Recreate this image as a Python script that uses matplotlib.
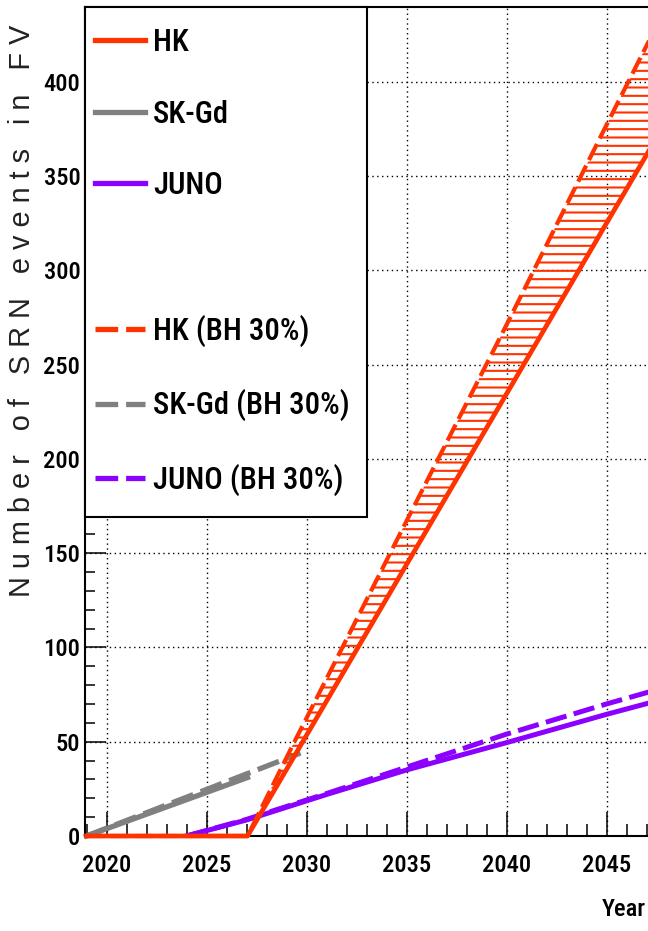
import os
import re
import matplotlib
matplotlib.use('Agg')
import matplotlib.pyplot as plt
from matplotlib import font_manager
from matplotlib.font_manager import FontProperties
from matplotlib.lines import Line2D
from matplotlib.legend_handler import HandlerLine2D
from matplotlib.ticker import MultipleLocator, FormatStrFormatter
import numpy as np

# Values (year, number of SRN events in FV)
hk_years = [2019.0, 2027.05, 2029.35, 2030.0, 2035.0, 2040.0, 2045.0, 2048.0]
hk_events = [0.0, 0.0, 41.6, 53.4, 143.9, 234.4, 324.9, 379.2]
hk_bh_events = [0.0, 0.0, 49.0, 62.5, 167.0, 271.0, 377.0, 440.0]

skgd_years = [2019.0, 2027.05]
skgd_events = [0.0, 31.0]
skgd_bh_years = [2019.0, 2029.7]
skgd_bh_events = [0.0, 44.0]

juno_years = [2024.0, 2027.0, 2031.0, 2035.0, 2040.0, 2045.0, 2048.0]
juno_events = [0.0, 8.5, 22.0, 35.0, 49.5, 64.5, 73.0]
juno_bh_events = [0.0, 8.8, 22.5, 36.5, 54.0, 70.0, 79.0]

legend_labels = ['HK', 'SK-Gd', 'JUNO', '', 'HK (BH 30%)', 'SK-Gd (BH 30%)', 'JUNO (BH 30%)']

c_hk = '#ff3300'
c_sk = '#808080'
c_juno = '#8b00ff'
dash = (4.3, 1.5)

W, H = 648, 931
fig = plt.figure(figsize=(W / 100, H / 100), dpi=100)
renderer = fig.canvas.get_renderer()


def text_px(s, family, size, weight=400, stretch='normal'):
	prop = FontProperties(family=family, size=size, weight=weight, stretch=stretch)
	return renderer.get_text_width_height_descent(s, prop, ismath=False)


# ROOT output here is squeezed sideways and fairly heavy: pick the installed
# narrow sans whose digits have the closest width/height ratio (ref "400": 35x31 px)
file_re = re.compile(r'^(notosans|roboto|opensans|liberationsans|dejavusans)(extra|ultra)?(condensed|narrow)'
					 r'(thin|extralight|light|regular|medium|semibold|bold|extrabold|black)?$')
weight_penalty = {600: 0.0, 700: 0.05, 500: 0.05, 400: 0.2, 800: 0.2, 300: 0.4, 900: 0.4, 200: 0.8, 100: 1.0}


def pick_narrow_font():
	best = None
	for f in font_manager.fontManager.ttflist:
		base = os.path.splitext(os.path.basename(f.fname))[0].lower().replace('-', '').replace('_', '')
		if f.style != 'normal' or not file_re.match(base):
			continue
		w = f.weight if isinstance(f.weight, int) else font_manager.weight_dict.get(f.weight, 400)
		try:
			found = font_manager.findfont(FontProperties(family=[f.name], weight=w, stretch=f.stretch),
										  fallback_to_default=False)
		except ValueError:
			continue
		if found != f.fname:
			continue
		dw, dh, dd = text_px('400', [f.name], 20, w, f.stretch)
		score = abs(np.log((dw / (dh - dd)) / 1.13)) + weight_penalty.get(w, 1.0)
		if best is None or score < best[0]:
			best = (score, f.name, w, f.stretch)
	if best is None:
		return 'Liberation Sans', 400, 'normal'
	return best[1], best[2], best[3]


main_font, main_weight, main_stretch = pick_narrow_font()
plt.rcParams['font.family'] = [main_font, 'DejaVu Sans']
plt.rcParams['font.weight'] = main_weight
plt.rcParams['font.stretch'] = main_stretch
plt.rcParams['hatch.color'] = c_hk
plt.rcParams['hatch.linewidth'] = 1.5

# font sizes fitted to the reference: width first, height as upper limit
w10, h10, d10 = text_px('400', [main_font], 10, main_weight, main_stretch)
tick_size = min(10 * 37.0 / w10, 10 * 31.0 / (h10 - d10))
w10, _, _ = text_px('SK-Gd (BH 30%)', [main_font], 10, main_weight, main_stretch)
_, hh, hd = text_px('H', [main_font], 10, main_weight, main_stretch)
leg_size = min(10 * 196.0 / w10, 10 * 38.0 / (hh - hd))

ylab = 'N u m b e r   o f   S R N   e v e n t s   i n   F V'
w10, _, _ = text_px(ylab, ['Liberation Sans'], 10)
ylab_size = min(10 * 575.0 / w10, 21)

# axes in pixel terms: left spine x=84.5, x-axis y=836, 20 px per year, 1.886 px per event
x0_px, y0_px = 84.5, 836.0
xmin, xmax = 2018.9, 2018.9 + (W - x0_px) / 20.0
ymin, ymax = 0.0, 439.5
ax_w_px = (xmax - xmin) * 20.0
ax_h_px = (ymax - ymin) * 1.886
ax = fig.add_axes([x0_px / W, (H - y0_px) / H, ax_w_px / W, ax_h_px / H])
ax.set_xlim(xmin, xmax)
ax.set_ylim(ymin, ymax)

ax.plot(skgd_years, skgd_events, color=c_sk, lw=3.8, zorder=2, clip_on=False)
ax.plot(skgd_bh_years, skgd_bh_events, color=c_sk, lw=3.8, dashes=dash, zorder=2, clip_on=False)
ax.plot(juno_years, juno_events, color=c_juno, lw=3.6, zorder=2.2)
ax.plot(juno_years, juno_bh_events, color=c_juno, lw=3.6, dashes=dash, zorder=2.2)
ax.fill_between(hk_years, hk_events, hk_bh_events, facecolor='none', edgecolor=c_hk,
				hatch='--', linewidth=0, zorder=2.4)
ax.plot(hk_years, hk_events, color=c_hk, lw=3.4, zorder=3, clip_on=False)
ax.plot(hk_years, hk_bh_events, color=c_hk, lw=3.0, dashes=dash, zorder=3, clip_on=False)

# ROOT-like axes: inward ticks, dotted grid
ax.xaxis.set_major_locator(MultipleLocator(5))
ax.xaxis.set_minor_locator(MultipleLocator(1))
ax.yaxis.set_major_locator(MultipleLocator(50))
ax.yaxis.set_minor_locator(MultipleLocator(10))
ax.xaxis.set_major_formatter(FormatStrFormatter('%d'))
ax.yaxis.set_major_formatter(FormatStrFormatter('%d'))
ax.tick_params(which='both', direction='in', top=False, right=False, width=1.1, colors='black',
			   labelsize=tick_size)
ax.tick_params(axis='x', which='major', length=17, pad=13)
ax.tick_params(axis='x', which='minor', length=8.6)
ax.tick_params(axis='y', which='major', length=15, pad=3)
ax.tick_params(axis='y', which='minor', length=7.2)
ax.grid(True, which='major', color='black', linestyle=(0, (1, 2.5)), linewidth=1.0)
ax.set_axisbelow(True)
for side in ['left', 'bottom', 'top']:
	ax.spines[side].set_linewidth(1.5)
ax.spines['right'].set_visible(False)

# y label with ROOT-ish letter spacing
ax.set_ylabel(ylab, family='Liberation Sans', weight='normal', stretch='normal', fontsize=ylab_size,
			  color='#222222', ha='left', va='center', rotation=90, rotation_mode='anchor')
ax.yaxis.set_label_coords((22 - x0_px) / ax_w_px, (y0_px - 597) / ax_h_px)

fig.text((W - 2) / W, (H - 898) / H, 'Year', fontsize=tick_size, ha='right', va='top')

# legend box: frame from left spine to x=367, top y=7, bottom y=517, rows 73 px apart
handles = [
	Line2D([], [], color=c_hk, lw=3.8),
	Line2D([], [], color=c_sk, lw=3.8),
	Line2D([], [], color=c_juno, lw=3.8),
	Line2D([], [], color='none'),
	Line2D([], [], color=c_hk, lw=3.8, dashes=dash),
	Line2D([], [], color=c_sk, lw=3.8, dashes=dash),
	Line2D([], [], color=c_juno, lw=3.8, dashes=dash),
]
fs = leg_size * 100 / 72.0


def make_legend(row_h):
	bpad = (36.0 - row_h / 2) / fs
	xpad = -(bpad * fs - 10.5) / fs
	lg = ax.legend(handles, legend_labels, loc='upper left',
				   bbox_to_anchor=(0, 0, (367 - x0_px) / ax_w_px, 1),
				   mode='expand', borderaxespad=0, fontsize=leg_size,
				   borderpad=bpad, labelspacing=(73.0 - row_h) / fs,
				   handlelength=(60.5 - bpad * fs) / fs, handletextpad=8.0 / fs,
				   fancybox=False, framealpha=1, edgecolor='black',
				   handler_map={Line2D: HandlerLine2D(xpad=xpad)})
	lg.get_frame().set_linewidth(1.5)
	lg.set_zorder(5)
	return lg


# first guess of the row height, then correct it from the drawn box height
row_guess = max(text_px(s, [main_font], leg_size, main_weight, main_stretch)[1] for s in legend_labels + ['lp'])
leg = make_legend(row_guess)
fig.canvas.draw()
box_h = leg.get_window_extent(fig.canvas.get_renderer()).height
# box_h = 72 - row_guess + 7*row + 6*(73 - row_guess); wanted 510 px
row_real = (box_h - 510.0 + 7 * row_guess) / 7.0
leg = make_legend(row_real)

fig.savefig('out.png', dpi=100)
